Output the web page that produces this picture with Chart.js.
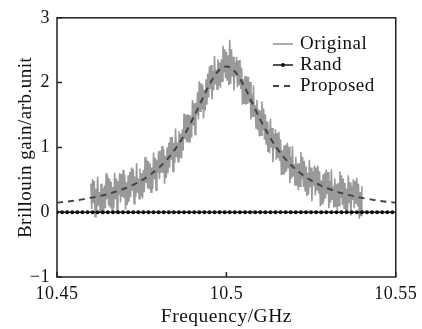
<!DOCTYPE html>
<html>
<head>
<meta charset="utf-8">
<script src="https://cdn.jsdelivr.net/npm/chart.js@4.4.0/dist/chart.umd.min.js"></script>
<style>
  html, body { margin: 0; padding: 0; background: #fff; }
  #wrap { width: 422px; height: 329px; }
</style>
</head>
<body>
<div id="wrap"><canvas id="chart"></canvas></div>
<script>
// Original (measured) spectrum, sampled every 0.00025 GHz from 10.46 to 10.54
const origStart = 10.46, origStep = 0.00025;
const originalGain = [
  0.44, 0.05, 0.51, 0.14, 0.48, -0.07, 0.36, 0.04, 0.55, 0.10,
  0.31, -0.01, 0.44, 0.02, 0.37, -0.03, 0.41, 0.06, 0.60, 0.20,
  0.55, 0.10, 0.52, 0.07, 0.47, 0.02, 0.39, 0.06, 0.61, 0.20,
  0.52, 0.01, 0.48, 0.27, 0.60, 0.15, 0.59, 0.24, 0.65, 0.22,
  0.58, 0.04, 0.46, 0.11, 0.57, 0.16, 0.62, 0.23, 0.69, 0.33,
  0.67, 0.13, 0.55, 0.24, 0.76, 0.30, 0.52, 0.21, 0.67, 0.24,
  0.60, 0.21, 0.65, 0.31, 0.85, 0.45, 0.81, 0.37, 0.79, 0.35,
  0.75, 0.31, 0.69, 0.36, 0.92, 0.51, 0.84, 0.34, 0.81, 0.61,
  0.94, 0.51, 0.95, 0.61, 1.02, 0.61, 0.97, 0.44, 0.87, 0.53,
  1.00, 0.60, 1.07, 0.69, 1.16, 0.81, 1.16, 0.63, 1.07, 0.76,
  1.29, 0.85, 1.08, 0.78, 1.25, 0.84, 1.21, 0.83, 1.28, 0.95,
  1.52, 1.13, 1.50, 1.08, 1.51, 1.08, 1.50, 1.07, 1.47, 1.15,
  1.73, 1.34, 1.68, 1.20, 1.69, 1.50, 1.85, 1.43, 2.02, 1.56,
  1.99, 1.59, 1.97, 1.45, 1.89, 1.57, 2.05, 1.66, 2.14, 1.77,
  2.25, 1.90, 2.27, 1.74, 2.18, 1.88, 2.41, 1.97, 2.20, 1.90,
  2.36, 1.95, 2.31, 1.92, 2.36, 2.02, 2.57, 2.16, 2.52, 2.07,
  2.48, 2.03, 2.42, 1.96, 2.66, 1.98, 2.52, 2.09, 2.40, 1.88,
  2.32, 2.10, 2.40, 1.93, 2.34, 1.97, 2.35, 1.90, 2.23, 1.66,
  2.05, 1.67, 2.10, 1.66, 2.09, 1.67, 2.09, 1.69, 2.01, 1.43,
  1.82, 1.47, 1.96, 1.47, 1.65, 1.30, 1.73, 1.27, 1.59, 1.17,
  1.57, 1.19, 1.71, 1.27, 1.60, 1.12, 1.51, 1.04, 1.40, 0.93,
  1.28, 0.91, 1.44, 1.00, 1.30, 0.77, 1.21, 0.98, 1.28, 0.81,
  1.22, 0.85, 1.24, 0.79, 1.12, 0.57, 0.96, 0.59, 1.03, 0.60,
  1.04, 0.63, 1.07, 0.68, 1.01, 0.45, 0.85, 0.52, 1.02, 0.55,
  0.74, 0.41, 0.85, 0.41, 0.75, 0.34, 0.76, 0.40, 0.93, 0.51,
  0.85, 0.39, 0.79, 0.33, 0.71, 0.25, 0.61, 0.27, 0.81, 0.38,
  0.69, 0.17, 0.63, 0.41, 0.72, 0.26, 0.69, 0.33, 0.72, 0.29,
  0.63, 0.09, 0.49, 0.13, 0.58, 0.16, 0.61, 0.21, 0.66, 0.28,
  0.62, 0.06, 0.48, 0.15, 0.66, 0.19, 0.40, 0.07, 0.52, 0.08,
  0.43, 0.03, 0.45, 0.10, 0.63, 0.22, 0.57, 0.11, 0.52, 0.06,
  0.45, 0.00, 0.36, 0.02, 0.57, 0.14, 0.46, -0.05, 0.40, 0.19,
  0.51, 0.06, 0.48, 0.13, 0.53, 0.09, 0.44, -0.10, 0.31, -0.05,
  0.40
];

// Proposed fit, every 0.0025 GHz from 10.45
const propStart = 10.45, propStep = 0.0025;
const proposedGain = [
  0.147, 0.161, 0.178, 0.198, 0.221, 0.248, 0.280, 0.319, 0.365, 0.421,
  0.491, 0.576, 0.683, 0.816, 0.982, 1.186, 1.430, 1.701, 1.968, 2.172,
  2.250,
  2.172, 1.968, 1.701, 1.430, 1.186, 0.982, 0.816, 0.683, 0.576, 0.491,
  0.421, 0.365, 0.319, 0.280, 0.248, 0.221, 0.198, 0.178, 0.161, 0.147
];

// Rand, every 0.0015 GHz from 10.45
const randStart = 10.45, randStep = 0.0015;
const randGain = [
  0, 0, 0, 0, 0, 0, 0, 0, 0, 0, 0, 0, 0, 0, 0, 0, 0,
  0, 0, 0, 0, 0, 0, 0, 0, 0, 0, 0, 0, 0, 0, 0, 0, 0,
  0, 0, 0, 0, 0, 0, 0, 0, 0, 0, 0, 0, 0, 0, 0, 0, 0,
  0, 0, 0, 0, 0, 0, 0, 0, 0, 0, 0, 0, 0, 0, 0, 0, 0
];

const xTicks = [10.45, 10.5, 10.55];
const yTicks = [-1, 0, 1, 2, 3];
const legendOrder = ['Original', 'Rand', 'Proposed'];

const toPoints = (start, step, vals) => vals.map((v, i) => ({ x: start + i * step, y: v }));

const serif = '"Liberation Serif", "DejaVu Serif", serif';

// box round the plot, inner ticks and the legend
const framePlugin = {
  id: 'frame',
  beforeDraw(chart) {
    chart.ctx.letterSpacing = '0.5px';
  },
  afterDraw(chart) {
    const { ctx, chartArea: a, scales } = chart;
    ctx.save();
    ctx.strokeStyle = '#222';
    ctx.lineWidth = 1.5;
    ctx.strokeRect(a.left, a.top, a.right - a.left, a.bottom - a.top);
    ctx.beginPath();
    yTicks.forEach(v => {
      const y = scales.y.getPixelForValue(v);
      ctx.moveTo(a.left, y); ctx.lineTo(a.left + 5, y);
    });
    xTicks.forEach(v => {
      const x = scales.x.getPixelForValue(v);
      ctx.moveTo(x, a.bottom); ctx.lineTo(x, a.bottom - 5);
    });
    ctx.stroke();

    // legend
    ctx.letterSpacing = '0.5px';
    ctx.font = '19px ' + serif;
    ctx.textBaseline = 'middle';
    let y = 44;
    legendOrder.forEach(name => {
      const ds = chart.data.datasets.find(d => d.label === name);
      const x0 = 273, x1 = 293;
      ctx.strokeStyle = ds.borderColor;
      ctx.lineWidth = ds.borderWidth;
      ctx.setLineDash(ds.borderDash || []);
      ctx.beginPath(); ctx.moveTo(x0, y); ctx.lineTo(x1, y); ctx.stroke();
      ctx.setLineDash([]);
      if (ds.pointRadius > 0) {
        ctx.fillStyle = ds.pointBackgroundColor;
        ctx.beginPath(); ctx.arc((x0 + x1) / 2, y, ds.pointRadius, 0, Math.PI * 2); ctx.fill();
      }
      ctx.fillStyle = '#111';
      ctx.fillText(name, 300, y);
      y += 21;
    });
    ctx.restore();
  }
};

new Chart(document.getElementById('chart'), {
  type: 'line',
  data: {
    datasets: [
      {
        label: 'Original',
        data: toPoints(origStart, origStep, originalGain),
        borderColor: '#999999',
        borderWidth: 1.6,
        pointRadius: 0,
        tension: 0,
        order: 3
      },
      {
        label: 'Rand',
        data: toPoints(randStart, randStep, randGain),
        borderColor: '#1a1a1a',
        borderWidth: 1.5,
        pointRadius: 2,
        pointBackgroundColor: '#111',
        pointBorderWidth: 0,
        order: 1
      },
      {
        label: 'Proposed',
        data: toPoints(propStart, propStep, proposedGain),
        borderColor: '#444',
        borderWidth: 2,
        borderDash: [6, 5],
        pointRadius: 0,
        cubicInterpolationMode: 'monotone',
        order: 2
      }
    ]
  },
  options: {
    responsive: true,
    maintainAspectRatio: false,
    animation: false,
    layout: { padding: { top: 14, right: 24, left: 0, bottom: 0 } },
    plugins: { legend: { display: false }, tooltip: { enabled: false } },
    scales: {
      x: {
        type: 'linear',
        min: 10.45,
        max: 10.55,
        afterBuildTicks: s => { s.ticks = xTicks.map(v => ({ value: v })); },
        afterFit: s => { s.height = 52; },
        grid: { display: false, drawTicks: false },
        border: { display: false },
        ticks: {
          color: '#111',
          padding: 6,
          maxRotation: 0,
          font: { family: serif, size: 18 },
          callback: v => String(+v.toFixed(2))
        },
        title: {
          display: true,
          text: 'Frequency/GHz',
          color: '#111',
          font: { family: serif, size: 19.5 },
          padding: { top: 0, bottom: 0 }
        }
      },
      y: {
        min: -1,
        max: 3,
        afterBuildTicks: s => { s.ticks = yTicks.map(v => ({ value: v })); },
        afterFit: s => { s.width = 57; },
        grid: { display: false, drawTicks: false },
        border: { display: false },
        ticks: {
          color: '#111',
          padding: 7,
          font: { family: serif, size: 18 },
          callback: v => v < 0 ? '\u2212' + Math.abs(v) : String(v)
        },
        title: {
          display: true,
          text: 'Brillouin gain/arb.unit',
          color: '#111',
          font: { family: serif, size: 19 },
          padding: { top: 15, bottom: 0 }
        }
      }
    }
  },
  plugins: [framePlugin]
});
</script>
</body>
</html>
